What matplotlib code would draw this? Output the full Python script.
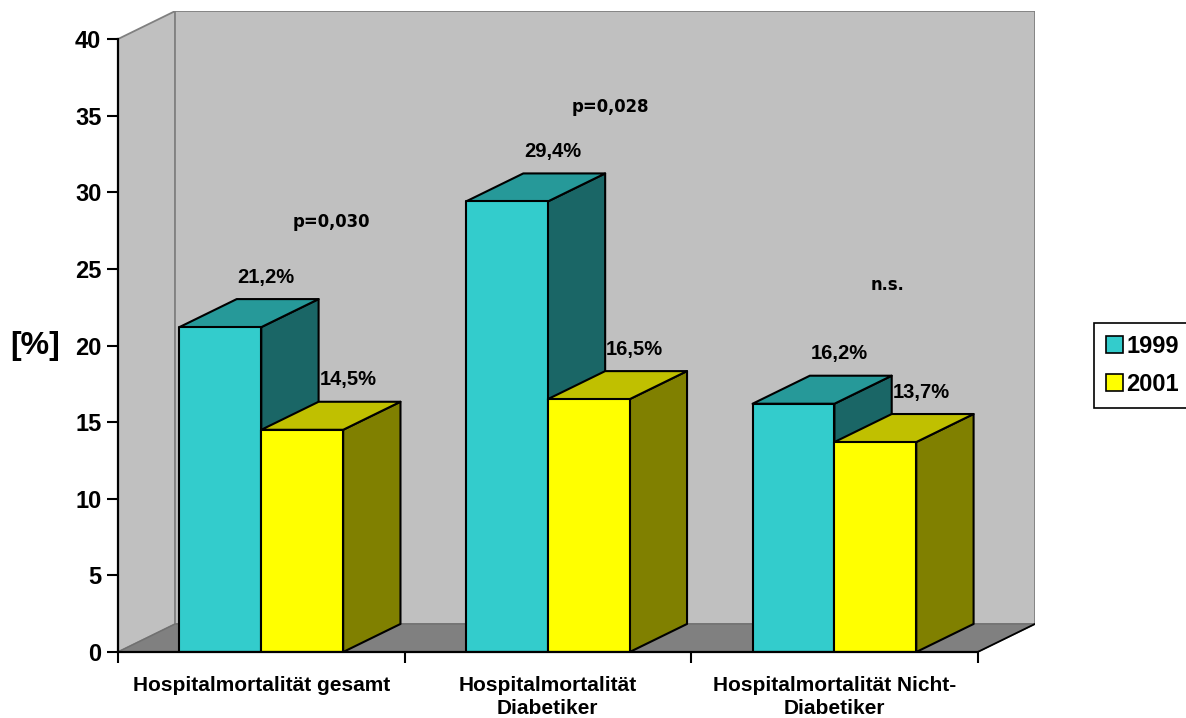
import matplotlib
matplotlib.use("Agg")
import matplotlib.pyplot as plt
from matplotlib.patches import Polygon, Patch

# ---------------- data ----------------
categories = ["Hospitalmortalität gesamt",
              "Hospitalmortalität\nDiabetiker",
              "Hospitalmortalität Nicht-\nDiabetiker"]
series_names = ["1999", "2001"]
values_1999 = [21.2, 29.4, 16.2]
values_2001 = [14.5, 16.5, 13.7]
labels_1999 = ["21,2%", "29,4%", "16,2%"]
labels_2001 = ["14,5%", "16,5%", "13,7%"]
p_labels = ["p=0,030", "p=0,028", "n.s."]
y_ticks = [0, 5, 10, 15, 20, 25, 30, 35, 40]
y_label = "[%]"

# ---------------- layout / style ----------------
P_POS = [(0.743, 27.72), (1.718, 35.23), (2.686, 23.6)]
DX, DY = 0.2, 1.83          # 3D depth offset in data units
BW = 1 / 3.5                # bar width (gap width 150%)
YMAX = 40
ARIAL = "Liberation Sans"

face = {"1999": ("#33CCCC", "#269999", "#1A6666"),
        "2001": ("#FFFF00", "#C0C000", "#808000")}

fig = plt.figure(figsize=(11.86, 7.18), dpi=100)
ax = fig.add_axes([118 / 1186, 66 / 718, 917 / 1186, 641 / 718])
ax.set_xlim(0, len(categories) + DX)
ax.set_ylim(0, YMAX + DY)
ax.set_facecolor("none")

n = len(categories)
wall_kw = dict(facecolor="#C0C0C0", edgecolor="#808080", linewidth=1.3, zorder=1)
# left wall
ax.add_patch(Polygon([(0, 0), (DX, DY), (DX, YMAX + DY), (0, YMAX)], **wall_kw))
# back wall
ax.add_patch(Polygon([(DX, DY), (n + DX, DY), (n + DX, YMAX + DY), (DX, YMAX + DY)], **wall_kw))
# floor
ax.add_patch(Polygon([(0, 0), (n, 0), (n + DX, DY), (DX, DY)],
                     facecolor="#808080", edgecolor="#707070", linewidth=1.0, zorder=2))
ax.plot([n, n + DX], [0, DY], color="black", linewidth=1.3, zorder=2.5, solid_capstyle="round")

bar_kw = dict(edgecolor="black", linewidth=1.5, joinstyle="round")


def draw_bar(x0, v, colors, z):
    front, top, side = colors
    ax.add_patch(Polygon([(x0 + BW, 0), (x0 + BW + DX, DY), (x0 + BW + DX, v + DY), (x0 + BW, v)],
                         facecolor=side, zorder=z, **bar_kw))
    ax.add_patch(Polygon([(x0, v), (x0 + BW, v), (x0 + BW + DX, v + DY), (x0 + DX, v + DY)],
                         facecolor=top, zorder=z, **bar_kw))
    ax.add_patch(Polygon([(x0, 0), (x0 + BW, 0), (x0 + BW, v), (x0, v)],
                         facecolor=front, zorder=z, **bar_kw))


series = [(series_names[0], values_1999, labels_1999), (series_names[1], values_2001, labels_2001)]
z = 3
for i in range(n):
    for j, (name, vals, labs) in enumerate(series):
        x0 = i + 0.5 - BW + j * BW
        v = vals[i]
        draw_bar(x0, v, face[name], z)
        z += 1
        ax.text(x0 + BW / 2 + 0.16, v + DY + 1.07, labs[i], ha="center", va="baseline",
                fontsize=14.5, fontweight="bold", family=ARIAL, zorder=20)

for (px, py), t in zip(P_POS, p_labels):
    ax.text(px, py, t, ha="center", va="baseline", fontsize=11.9, fontweight="bold",
            family="DejaVu Sans", zorder=20)

# axes / spines
for s in ["top", "right"]:
    ax.spines[s].set_visible(False)
ax.spines["left"].set_bounds(0, YMAX)
ax.spines["bottom"].set_bounds(0, n)
for s in ["left", "bottom"]:
    ax.spines[s].set_linewidth(1.6)
    ax.spines[s].set_zorder(30)

ax.set_yticks(y_ticks)
ax.set_yticklabels([str(t) for t in y_ticks], fontsize=17, fontweight="bold", family=ARIAL)
ax.tick_params(axis="y", direction="out", length=8, width=1.5, pad=4)

ax.set_xticks(range(n + 1))
ax.set_xticklabels([""] * (n + 1))
ax.set_xticks([i + 0.5 for i in range(n)], minor=True)
ax.set_xticklabels(categories, minor=True, fontsize=15, fontweight="bold", family=ARIAL,
                   linespacing=1.3)
ax.tick_params(axis="x", which="major", direction="out", length=8, width=1.5)
ax.tick_params(axis="x", which="minor", length=0, pad=17)

ax.set_ylabel(y_label, rotation=0, fontsize=23, fontweight="bold", family=ARIAL,
              ha="center", va="center")
ax.yaxis.set_label_coords(-0.0905, 0.477)

handles = [Patch(facecolor=face[nm][0], edgecolor="black", linewidth=1.2) for nm in series_names]
leg = fig.legend(handles, series_names, loc="upper left",
                 bbox_to_anchor=(1094 / 1186, 1 - 323 / 718),
                 prop={"family": ARIAL, "weight": "bold", "size": 17},
                 frameon=True, fancybox=False, edgecolor="black", framealpha=1,
                 borderaxespad=0, borderpad=0.5, handlelength=0.72, handleheight=0.72,
                 handletextpad=0.15, labelspacing=0.65)
leg.get_frame().set_linewidth(1.2)

fig.savefig("out.png", dpi=100)
